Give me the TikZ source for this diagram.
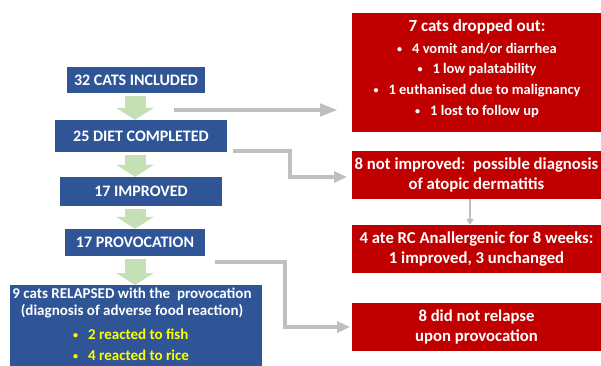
\documentclass[tikz,border=0pt]{standalone}
\usepackage{fontspec}
\setmainfont{Carlito}
\usetikzlibrary{arrows.meta}
\definecolor{bluebox}{HTML}{2F5597}
\definecolor{redbox}{HTML}{C00000}
\definecolor{greenarr}{HTML}{C5E0B4}
\definecolor{grayarr}{HTML}{BFBFBF}
\definecolor{yel}{HTML}{FFFF00}
\newcommand{\smbul}{{\fontsize{10}{10}\selectfont\raisebox{1pt}{\textbullet}}}
\tikzset{
  bluebox/.style={fill=bluebox, text=white, font=\bfseries\fontsize{16}{18}\selectfont, inner sep=0pt, align=center},
  redbox/.style={fill=redbox, text=white, font=\bfseries\fontsize{16.7}{20}\selectfont, inner sep=0pt, align=center},
  bullettext/.style={text=white, font=\bfseries\fontsize{14.5}{17}\selectfont, inner sep=0pt},
  yellowtext/.style={text=yel, font=\bfseries\fontsize{15}{17}\selectfont, anchor=west, inner sep=0pt},
  greenarrow/.style={draw=greenarr, line width=21pt, -{Triangle[width=37pt,length=12pt]}, shorten <=3pt},
  grayarrow/.style={draw=grayarr, line width=4.5pt, -{Triangle[width=12pt,length=18pt]}},
  grayarrowb/.style={draw=grayarr, line width=4.5pt, -{Triangle[width=11pt,length=13pt]}},
  smallarrow/.style={draw=grayarr, line width=2pt, -{Triangle[width=7pt,length=6pt]}},
}
\begin{document}
\begin{tikzpicture}[x=1pt,y=-1pt]
\useasboundingbox (0,0) rectangle (601,365);
\fill[white] (0,0) rectangle (601,365);
\begin{scope}
\clip (0,0) rectangle (601,365);
% blue boxes
\node[bluebox, minimum width=138pt, minimum height=26pt] (a) at (136,80) {32 CATS INCLUDED};
\node[bluebox, minimum width=172pt, minimum height=32pt] (b) at (141,136) {25 DIET COMPLETED};
\node[bluebox, minimum width=162pt, minimum height=29pt] (c) at (141,191.5) {17 IMPROVED};
\node[bluebox, minimum width=140pt, minimum height=27pt] (d) at (135,242.5) {17 PROVOCATION};
\node[fill=bluebox, minimum width=252pt, minimum height=100pt, anchor=north west, inner sep=0pt] (e) at (10,285) {};
\node[text=white, font=\bfseries\fontsize{15}{17}\selectfont, align=center, anchor=north, inner sep=0pt] (et) at (132,288) {9 cats RELAPSED with the\ \ provocation\\(diagnosis of adverse food reaction)};
\node[yellowtext] (e1) at (73,334) {\smbul\hspace{10pt}2 reacted to fish};
\node[yellowtext] (e2) at (73,355) {\smbul\hspace{10pt}4 reacted to rice};
% red boxes
\node[redbox, minimum width=249pt, minimum height=119pt] (r1) at (476.5,72.5) {};
\node[text=white, font=\bfseries\fontsize{17}{19}\selectfont, inner sep=0pt] (r1t) at (477,27) {7 cats dropped out:};
\node[bullettext] (r1a) at (477,49) {\smbul\hspace{10pt}4 vomit and/or diarrhea};
\node[bullettext] (r1b) at (477,70) {\smbul\hspace{10pt}1 low palatability};
\node[bullettext] (r1c) at (477,91) {\smbul\hspace{10pt}1 euthanised due to malignancy};
\node[bullettext] (r1d) at (477,112) {\smbul\hspace{10pt}1 lost to follow up};
\node[redbox, minimum width=249pt, minimum height=48pt] (r2) at (476.5,175) {8 not improved:\ \ possible diagnosis\\of atopic dermatitis};
\node[redbox, minimum width=249pt, minimum height=48pt] (r3) at (476.5,249) {4 ate RC Anallergenic for 8 weeks:\\1 improved, 3 unchanged};
\node[redbox, minimum width=249pt, minimum height=48pt] (r4) at (476.5,327) {8 did not relapse\\upon provocation};
% green arrows
\draw[greenarrow] (a.south -| 135,0) -- (b.north -| 135,0);
\draw[greenarrow] (b.south -| 135,0) -- (c.north -| 135,0);
\draw[greenarrow] (c.south -| 135,0) -- (d.north -| 135,0);
\draw[greenarrow] (d.south -| 135,0) -- (e.north -| 135,0);
% gray arrows
\coordinate (g1) at (174,110);
\coordinate (g1e) at (338,110);
\draw[grayarrow] (g1) -- (g1e);
\coordinate (g2) at (233,151);
\coordinate (g2e) at (347,177);
\draw[grayarrowb] (g2) -| (290,177) -- (g2e);
\coordinate (g3) at (215,262);
\coordinate (g3e) at (350,327);
\draw[grayarrowb] (g3) -| (285,327) -- (g3e);
\draw[smallarrow] (r2.south -| 470,0) -- (r3.north -| 470,0);
\end{scope}
\end{tikzpicture}
\end{document}
